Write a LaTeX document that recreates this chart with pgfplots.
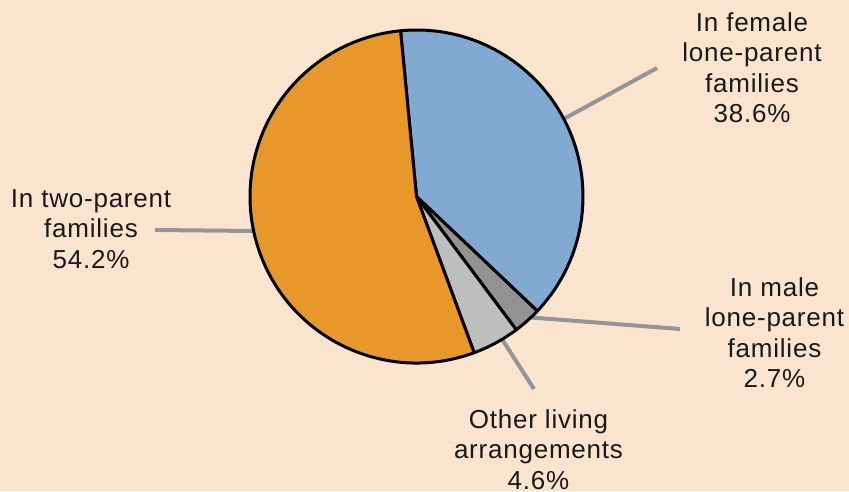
\documentclass[border=0pt]{standalone}
\usepackage{pgfplots}
\pgfplotsset{compat=1.18}
\usepackage{fontspec}
\setmainfont{Liberation Sans}[LetterSpace=3]
\definecolor{bg}{HTML}{FBE4CE}
\definecolor{cfemale}{HTML}{82A9D1}
\definecolor{cmale}{HTML}{929292}
\definecolor{cother}{HTML}{BEBEBE}
\definecolor{ctwo}{HTML}{E8972A}
\definecolor{lead}{HTML}{939598}
% shares in percent
\def\vfemale{38.6}
\def\vmale{2.7}
\def\vother{4.6}
\def\vtwo{54.2}
\begin{document}
\begin{tikzpicture}
\pgfmathsetmacro{\aA}{95.5}
\pgfmathsetmacro{\aB}{\aA-3.6*\vfemale}
\pgfmathsetmacro{\aC}{\aB-3.6*\vmale}
\pgfmathsetmacro{\aD}{\aC-3.6*\vother}
\pgfmathsetmacro{\aE}{\aA-360}
\begin{axis}[
  x=1pt, y=1pt, xmin=0, xmax=849, ymin=0, ymax=491,
  y dir=reverse, hide axis, scale only axis, clip=false,
]
\fill[bg] (axis cs:0,0) rectangle (axis cs:849,491);
% leader lines
\draw[lead, line width=4pt] (axis cs:560,121) -- (axis cs:657,68);
\draw[lead, line width=4pt] (axis cs:525,317) -- (axis cs:680,329);
\draw[lead, line width=4pt] (axis cs:500,336) -- (axis cs:534,389);
\draw[lead, line width=4pt] (axis cs:155,230) -- (axis cs:255,231);
% wedges
\coordinate (c) at (axis cs:416.5,196.5);
\filldraw[fill=cfemale, draw=black, line width=3pt, line join=round] (c) -- ++(\aA:166.5pt) arc[start angle=\aA, end angle=\aB, radius=166.5pt] -- cycle;
\filldraw[fill=cmale, draw=black, line width=3pt, line join=round] (c) -- ++(\aB:166.5pt) arc[start angle=\aB, end angle=\aC, radius=166.5pt] -- cycle;
\filldraw[fill=cother, draw=black, line width=3pt, line join=round] (c) -- ++(\aC:166.5pt) arc[start angle=\aC, end angle=\aD, radius=166.5pt] -- cycle;
\filldraw[fill=ctwo, draw=black, line width=3pt, line join=round] (c) -- ++(\aD:166.5pt) arc[start angle=\aD, end angle=\aE, radius=166.5pt] -- cycle;
% labels
\tikzset{lbl/.style={anchor=north, inner sep=0pt, align=center, font=\fontsize{26}{30.5}\selectfont, text=black!90}}
\node[lbl] at (axis cs:752,12) {In female\\lone-parent\\families\\\vfemale\%};
\node[lbl] at (axis cs:774.5,277) {In male\\lone-parent\\families\\\vmale\%};
\node[lbl] at (axis cs:538.5,409) {Other living\\arrangements\\\vother\%};
\node[lbl] at (axis cs:91,189) {In two-parent\\families\\\vtwo\%};
\end{axis}
\end{tikzpicture}
\end{document}
